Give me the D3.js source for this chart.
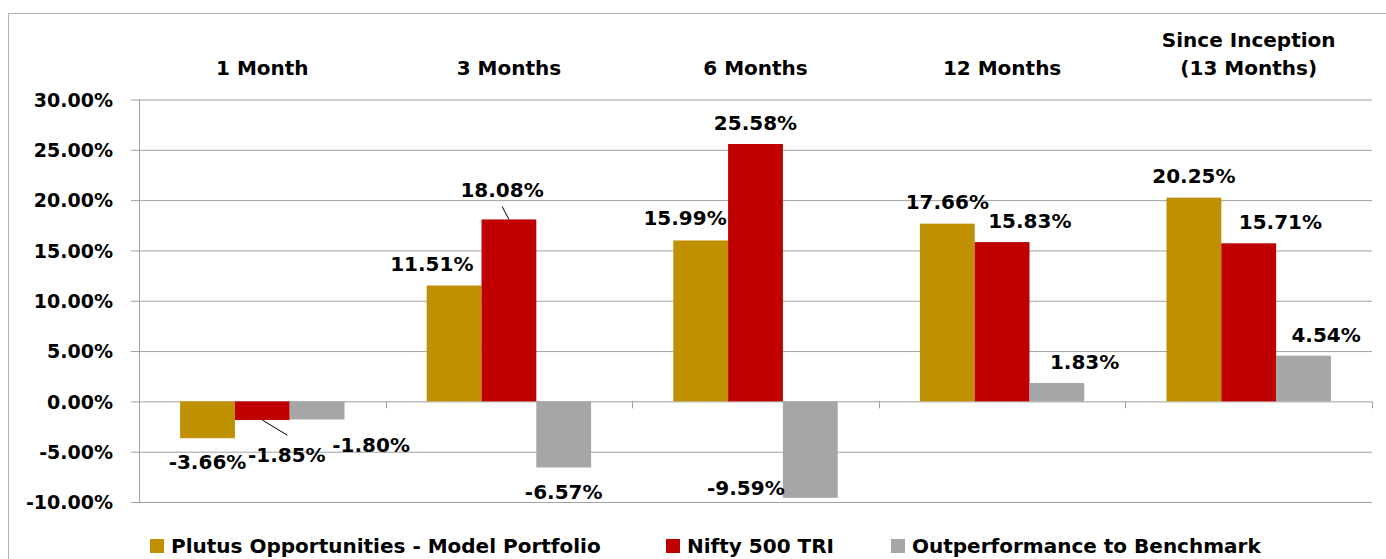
<!DOCTYPE html>
<html>
<head>
<meta charset="utf-8">
<script src="https://cdn.jsdelivr.net/npm/d3@7"></script>
<style>
  html, body { margin: 0; padding: 0; background: #fff; }
  svg { display: block; font-family: "DejaVu Sans", Verdana, sans-serif; font-weight: bold; }
</style>
</head>
<body>
<svg id="chart" width="1386" height="559"></svg>
<script>
// ---- data ----
const categories = ["1 Month", "3 Months", "6 Months", "12 Months", "Since Inception\n(13 Months)"];
const seriesNames = ["Plutus Opportunities - Model Portfolio", "Nifty 500 TRI", "Outperformance to Benchmark"];
const plutus = [-3.66, 11.51, 15.99, 17.66, 20.25];
const nifty = [-1.85, 18.08, 25.58, 15.83, 15.71];
const outperf = [-1.80, -6.57, -9.59, 1.83, 4.54];
const yTicks = [-10, -5, 0, 5, 10, 15, 20, 25, 30];

// ---- label placement (manual offsets from bar end, like the original) ----
const labelOffsets = [
  [[0, 31], [24.5, 42], [54, 32.6]],
  [[-22.3, -15], [-6.8, -22], [0, 32]],
  [[-15.6, -15], [0, -14.4], [-64.4, -3.2]],
  [[0, -15], [27.7, -14], [27.7, -14.3]],
  [[0, -15], [31.7, -14.7], [22.6, -13.6]]
];
// leader lines: [category, series, dx from label anchor, dy from label baseline]
const leaders = [[0, 1, 0.6, -26.7], [1, 1, 0, 9]];

const colors = ["#BF9000", "#C00000", "#A6A6A6"];
const seriesValues = [plutus, nifty, outperf];

const locale = d3.formatLocale({decimal: ".", thousands: ",", grouping: [3], currency: ["", ""], minus: "-"});
const fmt = v => locale.format(".2f")(v) + "%";

const svg = d3.select("#chart");
const plotLeft = 139, plotRight = 1372, plotTop = 99.5, plotBottom = 502;

// outer frame
svg.append("rect").attr("x", 8.5).attr("y", 13.5).attr("width", 1400).attr("height", 600)
  .attr("fill", "none").attr("stroke", "#b4b4b4").attr("stroke-width", 1);

const x0 = d3.scaleBand().domain(categories).range([plotLeft, plotRight]).paddingInner(0).paddingOuter(0);
const x1 = d3.scaleBand().domain(seriesNames).range([0, x0.bandwidth()]).paddingInner(0).paddingOuter(0.75);
const y = d3.scaleLinear().domain([-10, 30]).range([plotBottom, plotTop]);

// gridlines + y labels
const yAxis = d3.axisLeft(y).tickValues(yTicks).tickSize(-(plotRight - 131)).tickPadding(18)
  .tickFormat(fmt);
const gy = svg.append("g").attr("transform", "translate(131,0)").call(yAxis);
gy.select(".domain").remove();
gy.selectAll(".tick line").attr("stroke", "#a0a0a0");
gy.selectAll(".tick text").attr("font-size", 19).attr("font-weight", "bold")
  .attr("font-family", "DejaVu Sans, sans-serif").attr("fill", "#000").attr("dy", "0.36em");

// y axis line
svg.append("line").attr("x1", plotLeft + 0.5).attr("x2", plotLeft + 0.5).attr("y1", plotTop).attr("y2", plotBottom)
  .attr("stroke", "#a0a0a0");

// bars
const rows = [];
categories.forEach((c, i) => seriesNames.forEach((s, j) => rows.push({c, s, i, j, v: seriesValues[j][i]})));

svg.append("g").selectAll("rect").data(rows).join("rect")
  .attr("x", d => x0(d.c) + x1(d.s))
  .attr("width", x1.bandwidth())
  .attr("y", d => y(Math.max(0, d.v)))
  .attr("height", d => Math.abs(y(d.v) - y(0)))
  .attr("fill", d => colors[d.j]);

// category axis on zero line with tick marks at boundaries
const zeroY = y(0);
const bounds = categories.map(c => x0(c) + x0.bandwidth());
svg.append("g").selectAll("line").data(bounds).join("line")
  .attr("x1", d => Math.round(d) + 0.5).attr("x2", d => Math.round(d) + 0.5)
  .attr("y1", zeroY).attr("y2", zeroY + 7).attr("stroke", "#a0a0a0");

// category titles at top
const titles = svg.append("g").selectAll("text").data(categories).join("text")
  .attr("text-anchor", "middle").attr("font-size", 20).attr("fill", "#000")
  .attr("x", d => x0(d) + x0.bandwidth() / 2)
  .attr("y", d => 75 - (d.split("\n").length - 1) * 28.5);
titles.each(function(d) {
  const t = d3.select(this);
  d.split("\n").forEach((line, k) => {
    t.append("tspan").attr("x", x0(d) + x0.bandwidth() / 2).attr("dy", k === 0 ? 0 : 28.5).text(line);
  });
});

// data labels
function anchor(d) {
  const cx = x0(d.c) + x1(d.s) + x1.bandwidth() / 2;
  const off = labelOffsets[d.i][d.j];
  return [cx + off[0], y(d.v) + off[1]];
}
svg.append("g").selectAll("text").data(rows).join("text")
  .attr("text-anchor", "middle").attr("font-size", 20).attr("fill", "#000")
  .attr("x", d => anchor(d)[0]).attr("y", d => anchor(d)[1])
  .text(d => fmt(d.v));

// leader lines
svg.append("g").selectAll("line").data(leaders).join("line")
  .attr("x1", d => x0(categories[d[0]]) + x1(seriesNames[d[1]]) + x1.bandwidth() / 2)
  .attr("y1", d => y(seriesValues[d[1]][d[0]]))
  .attr("x2", d => anchor(rows[d[0] * 3 + d[1]])[0] + d[2])
  .attr("y2", d => anchor(rows[d[0] * 3 + d[1]])[1] + d[3])
  .attr("stroke", "#000").attr("stroke-width", 1);

// legend
const legendX = [150, 666, 891];
const lg = svg.append("g").selectAll("g").data(seriesNames).join("g")
  .attr("transform", (d, i) => `translate(${legendX[i]},539)`);
lg.append("rect").attr("width", 14).attr("height", 14).attr("fill", (d, i) => colors[i]);
lg.append("text").attr("x", 21).attr("y", 14).attr("font-size", 20).attr("fill", "#000").text(d => d);
</script>
</body>
</html>
